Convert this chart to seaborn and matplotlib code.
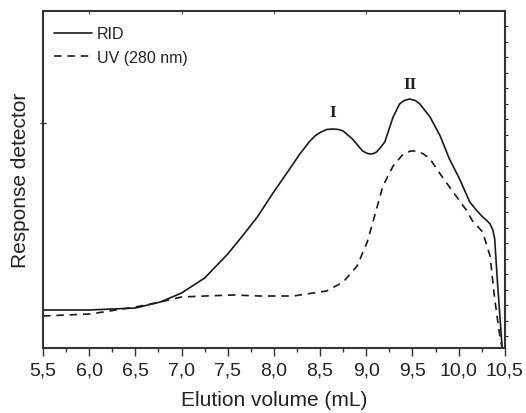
import numpy as np
import pandas as pd
import seaborn as sns
import matplotlib.pyplot as plt
from matplotlib.ticker import FixedLocator, MultipleLocator, FuncFormatter

# values (x in mL, y in arbitrary detector units)
rid_x = [5.50, 6.00, 6.50, 6.77, 7.00, 7.25, 7.50, 7.65, 7.82, 7.99, 8.17, 8.28,
         8.39, 8.45, 8.50, 8.57, 8.64, 8.70, 8.75, 8.85, 8.96, 9.00, 9.04, 9.08,
         9.11, 9.15, 9.20, 9.29, 9.36, 9.41, 9.47, 9.53, 9.58, 9.69, 9.80, 9.90,
         10.01, 10.12, 10.20, 10.26, 10.31, 10.34, 10.37, 10.39, 10.42, 10.47]
rid_y = [38, 38, 40, 46, 55, 70, 94, 111, 131, 155, 179, 194,
         207, 212.5, 215.5, 218.5, 219, 218.5, 217, 209, 197, 195, 194, 194.5,
         196, 200, 206, 231, 244, 247.5, 249, 247.5, 244, 231, 212, 189,
         169, 146, 137, 131, 127, 124, 118, 109, 66, 1]

uv_x = [5.50, 6.01, 6.50, 6.77, 7.00, 7.25, 7.56, 7.85, 8.21, 8.57, 8.75, 8.90,
        9.01, 9.09, 9.18, 9.29, 9.40, 9.48, 9.55, 9.62, 9.69, 9.80, 9.94, 10.09,
        10.15, 10.26, 10.34, 10.39, 10.45, 10.47]
uv_y = [32, 34, 41, 46, 51, 52, 53, 52, 52, 57, 66, 82,
        106, 132, 162, 182, 194, 197, 197, 194, 189, 174, 156, 137,
        127, 116, 92, 49, 9, 1]

peak_labels = ["I", "II"]
peak_x = [8.64, 9.47]
peak_y = [236, 264]

rid = pd.DataFrame({"x": rid_x, "y": rid_y})
uv = pd.DataFrame({"x": uv_x, "y": uv_y})

sns.set_theme(style="ticks")
plt.rcParams["font.family"] = ["Liberation Sans", "DejaVu Sans"]

fig = plt.figure(figsize=(5.26, 4.14), dpi=100)
ax = fig.add_axes([0.0818, 0.157, 0.878, 0.814])

sns.lineplot(data=rid, x="x", y="y", ax=ax, color="#1a1a1a", lw=1.2,
             sort=False, estimator=None, label="RID")
sns.lineplot(data=uv, x="x", y="y", ax=ax, color="#1a1a1a", lw=1.2,
             sort=False, estimator=None, label="UV (280 nm)", dashes=False)
ax.lines[1].set_dashes([4.5, 3.5])
for ln in ax.lines:
    ln.set_solid_joinstyle("round")
    ln.set_dash_joinstyle("round")

for lab, px, py in zip(peak_labels, peak_x, peak_y):
    ax.text(px, py, lab, ha="center", va="center", fontsize=12.5,
            fontweight="bold", family="Liberation Serif", color="#222222")

ax.set_xlim(5.5, 10.5)
ax.set_ylim(0, 337)

ax.xaxis.set_major_locator(MultipleLocator(0.5))
ax.xaxis.set_minor_locator(MultipleLocator(0.25))
ax.xaxis.set_major_formatter(FuncFormatter(lambda v, p: f"{v:.1f}".replace(".", ",")))
ax.yaxis.set_major_locator(FixedLocator([225]))
ax.yaxis.set_minor_locator(FixedLocator(np.arange(12, 323, 15.5)))
ax.set_yticklabels([])

ax.tick_params(axis="x", which="major", direction="out", length=6, width=1,
               labelsize=14, color="#333333", labelcolor="#222222", pad=4)
ax.tick_params(axis="x", which="minor", direction="out", length=3, width=1,
               color="#333333")
ax.tick_params(axis="y", which="major", left=True, right=False, direction="inout",
               length=4, width=1, color="#333333")
ax.tick_params(axis="y", which="minor", left=False, right=True, direction="out",
               length=2, width=0.8, color="#333333")

top = ax.secondary_xaxis("top")
top.set_xticks([6, 7, 8, 9, 10])
top.tick_params(direction="in", length=2, width=0.8, labeltop=False, color="#555555")
top.spines["top"].set_visible(False)

for s in ax.spines.values():
    s.set_visible(True)
    s.set_linewidth(1.5)
    s.set_color("#333333")

ax.set_xlabel("Elution volume (mL)", fontsize=15, color="#222222", labelpad=8)
ax.set_ylabel("Response detector", fontsize=15, color="#222222", labelpad=4)

ax.legend(loc="upper left", bbox_to_anchor=(-0.009, 1.0), frameon=False, fontsize=11.5,
          handlelength=2.4, handletextpad=0.3, labelspacing=0.55, borderaxespad=0.55,
          labelcolor="#222222")

fig.savefig("out.png", dpi=100)
